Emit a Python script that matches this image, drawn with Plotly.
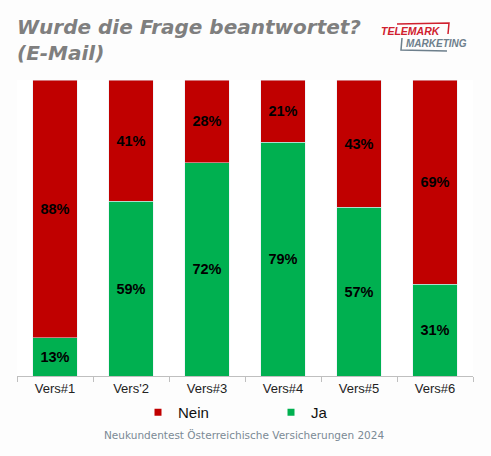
import plotly.graph_objects as go

categories = ["Vers#1", "Vers'2", "Vers#3", "Vers#4", "Vers#5", "Vers#6"]
ja = [13, 59, 72, 79, 57, 31]
nein = [88, 41, 28, 21, 43, 69]
red = "#C00000"
green = "#00B050"

L, T, W, H = 17, 80, 456, 296  # plot area in px


def px(xp):
    return (xp - L) / W


def py(yp):
    return (T + H - yp) / H


lbl_font = dict(family="Arial", size=14.5, color="black", weight="bold")

fig = go.Figure()
fig.add_trace(go.Bar(x=categories, y=ja, name="Ja", marker_color=green,
                     text=[f"{v}%" for v in ja], textposition="inside",
                     insidetextanchor="middle", showlegend=False, textfont=lbl_font))
fig.add_trace(go.Bar(x=categories, y=nein, name="Nein", marker_color=red,
                     text=[f"{v}%" for v in nein], textposition="inside",
                     insidetextanchor="middle", showlegend=False, textfont=lbl_font))
# legend entries (small square markers)
fig.add_trace(go.Scatter(x=[None], y=[None], mode="markers", name="Nein",
                         marker=dict(symbol="square", size=7, color=red)))
fig.add_trace(go.Scatter(x=[None], y=[None], mode="markers", name="Ja",
                         marker=dict(symbol="square", size=7, color=green)))

fig.update_layout(
    width=491, height=456,
    barmode="stack", barnorm="percent", bargap=0.41,
    paper_bgcolor="#fdfdfd", plot_bgcolor="#ffffff",
    margin=dict(l=L, r=491 - L - W, t=T, b=456 - T - H),
    uniformtext=dict(minsize=8, mode="show"),
    legend=dict(orientation="h", x=px(138), xanchor="left", y=py(396), yanchor="top",
                font=dict(family="Arial", size=15, color="#111"),
                traceorder="normal", entrywidth=88, itemwidth=30,
                bgcolor="rgba(0,0,0,0)"),
    font=dict(family="Arial"),
)
fig.update_xaxes(showline=True, linecolor="#bfbfbf", linewidth=1,
                 ticks="outside", tickson="boundaries", ticklen=5, tickcolor="#bfbfbf",
                 tickfont=dict(family="Arial", size=13, color="#222"), showgrid=False)
fig.update_yaxes(visible=False, range=[0, 100])

fig.add_annotation(text="<b><i>Wurde die Frage beantwortet?<br>(E-Mail)</i></b>",
                   xref="paper", yref="paper", x=px(15), y=py(13), xanchor="left", yanchor="top",
                   align="left", showarrow=False,
                   font=dict(family="DejaVu Sans", size=20, color="#7f7f7f"))
# logo
fig.add_annotation(text="<b><i>TELEMARK</i></b>", xref="paper", yref="paper",
                   x=px(380), y=py(31), xanchor="left", yanchor="middle", borderpad=0,
                   showarrow=False, font=dict(family="Arial", size=10.5, color="#d0202e"))
fig.add_annotation(text="<b><i>MARKETING</i></b>", xref="paper", yref="paper",
                   x=px(405), y=py(43), xanchor="left", yanchor="middle", borderpad=0,
                   showarrow=False, font=dict(family="Arial", size=10, color="#6d7f8c"))
fig.add_shape(type="path", xref="paper", yref="paper",
              path=f"M {px(397)},{py(24)} L {px(449)},{py(23)} L {px(448)},{py(34)}",
              line=dict(color="#d0202e", width=1.5))
fig.add_shape(type="path", xref="paper", yref="paper",
              path=f"M {px(402)},{py(38)} L {px(401)},{py(50)} L {px(447)},{py(51)}",
              line=dict(color="#6d7f8c", width=1.5))

fig.add_annotation(text="Neukundentest Österreichische Versicherungen 2024",
                   xref="paper", yref="paper", x=px(244), y=py(435),
                   xanchor="center", yanchor="middle", showarrow=False,
                   font=dict(family="DejaVu Sans", size=10.5, color="#7b8a95"))

fig.write_html("out.html", config={"displayModeBar": False},
               post_script="document.body.style.margin='0';")
